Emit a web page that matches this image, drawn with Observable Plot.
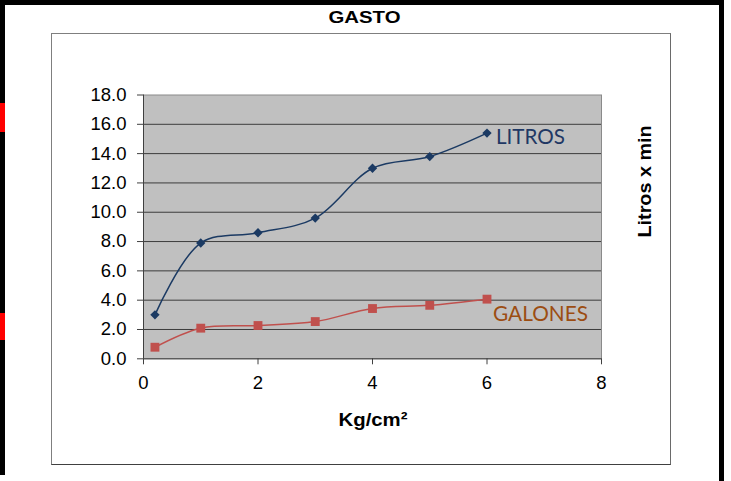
<!DOCTYPE html>
<html>
<head>
<meta charset="utf-8">
<script src="https://cdn.jsdelivr.net/npm/d3@7"></script>
<script src="https://cdn.jsdelivr.net/npm/@observablehq/plot@0.6"></script>
<style>
  html, body { margin: 0; padding: 0; background: #fff; }
  #wrap { position: relative; width: 731px; height: 481px; overflow: hidden; }
  #wrap svg { position: absolute; left: 0; top: 0; }
  .bar { position: absolute; background: #000; }
  .red { position: absolute; background: #ff0000; }
  #box { position: absolute; left: 51px; top: 33px; width: 618px; height: 430px;
         border: 1px solid #7f7f7f; border-bottom-color: #404040; border-right-color: #6a6a6a; }
</style>
</head>
<body>
<div id="wrap">
  <div id="box"></div>
  <div class="bar" style="left:0;top:0;width:724px;height:5px"></div>
  <div class="bar" style="left:0;top:0;width:5px;height:475px"></div>
  <div class="red" style="left:0;top:103px;width:5px;height:29px"></div>
  <div class="red" style="left:0;top:313px;width:5px;height:27px"></div>
  <div class="bar" style="left:719px;top:0;width:5px;height:481px"></div>
</div>
<script>
// ---- data ----
const presion = [0.2, 1, 2, 3, 4, 5, 6];                 // Kg/cm²
const litros  = [3.0, 7.9, 8.6, 9.6, 13.0, 13.8, 15.4];  // LITROS
const galones = [0.79, 2.09, 2.27, 2.54, 3.43, 3.65, 4.07]; // GALONES
const seriesNames = ["LITROS", "GALONES"];
const xTicks = [0, 2, 4, 6, 8];
const yTicks = [0, 2, 4, 6, 8, 10, 12, 14, 16, 18];
const titleText = "GASTO";
const xLabel = "Kg/cm²";
const yLabel = "Litros x min";

const rows = presion.map((p, i) => ({p, litros: litros[i], galones: galones[i]}));
const last = rows[rows.length - 1];

const cLit = "#1b3a63", cGal = "#c0504d";
const cLitText = "#1f3864", cGalText = "#9c4d12";

const chart = Plot.plot({
  width: 731,
  height: 481,
  marginLeft: 143,
  marginRight: 130,
  marginTop: 94.5,
  marginBottom: 122.7,
  style: {fontFamily: "'Liberation Sans', Arial, sans-serif", fontSize: "18.5px", background: "transparent", color: "#000", overflow: "visible"},
  x: {domain: [0, 8]},
  y: {domain: [0, 18]},
  marks: [
    Plot.frame({fill: "#c0c0c0"}),
    Plot.ruleY(yTicks.filter(t => t > 0 && t < 18), {stroke: "#3c3c3c", strokeWidth: 1}),
    Plot.frame({stroke: "#8a8a8a"}),
    Plot.ruleX([0], {stroke: "#404040"}),
    Plot.ruleY([0], {stroke: "#404040"}),
    Plot.axisY({ticks: yTicks, tickFormat: d3.format(".1f"), tickSize: 6, tickPadding: 11, stroke: "#404040", label: null}),
    Plot.axisX({ticks: xTicks, tickFormat: d3.format("d"), tickSize: 6, tickPadding: 11.5, stroke: "#404040", label: null}),
    Plot.line(rows, {x: "p", y: "litros", stroke: cLit, strokeWidth: 1.5, curve: "catmull-rom"}),
    Plot.line(rows, {x: "p", y: "galones", stroke: cGal, strokeWidth: 1.5, curve: "catmull-rom"}),
    Plot.dot(rows, {x: "p", y: "litros", symbol: "diamond2", r: 4.2, fill: cLit, stroke: null}),
    Plot.dot(rows, {x: "p", y: "galones", symbol: "square", r: 5, fill: cGal, stroke: null}),
    Plot.text([last], {x: "p", y: "litros", text: () => seriesNames[0], textAnchor: "start", lineAnchor: "middle",
      dx: 9, dy: 4.2, fill: cLitText, fontFamily: "Lato, 'Open Sans', sans-serif", fontSize: 22}),
    Plot.text([last], {x: "p", y: "galones", text: () => seriesNames[1], textAnchor: "start", lineAnchor: "middle",
      dx: 6, dy: 15.2, fill: cGalText, fontFamily: "Lato, 'Open Sans', sans-serif", fontSize: 22}),
    Plot.text([titleText], {frameAnchor: "top-left", text: d => d, textAnchor: "middle", lineAnchor: "middle",
      dx: 221, dy: -77, fontWeight: "bold", fontSize: 16.5}),
    Plot.text([xLabel], {frameAnchor: "top-left", text: d => d, textAnchor: "middle", lineAnchor: "middle",
      dx: 229.5, dy: 325.5, fontWeight: "bold", fontSize: 18.5}),
    Plot.text([yLabel], {frameAnchor: "top-left", text: d => d, textAnchor: "middle", lineAnchor: "middle",
      dx: 502, dy: 86.5, rotate: -90, fontWeight: "bold", fontSize: 18.5})
  ]
});

// stretch labels to the widths measured in the reference
const lengths = {[titleText]: 72, [xLabel]: 69, [yLabel]: 112, [seriesNames[0]]: 69, [seriesNames[1]]: 95};
d3.select(chart).selectAll("text").each(function() {
  const t = this.textContent;
  if (lengths[t] !== undefined) {
    this.setAttribute("textLength", lengths[t]);
    this.setAttribute("lengthAdjust", "spacingAndGlyphs");
  }
});

document.getElementById("wrap").appendChild(chart);
</script>
</body>
</html>
